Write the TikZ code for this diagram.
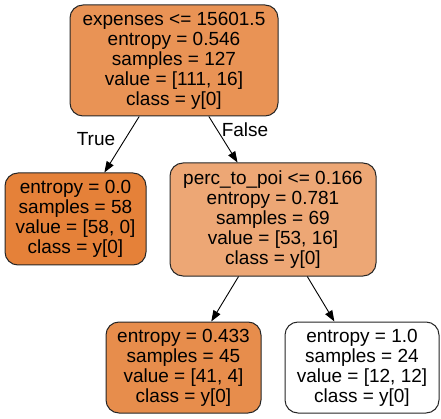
\documentclass[tikz,border=0pt]{standalone}
\usepackage{fontspec}
\setmainfont{Liberation Sans}
\usetikzlibrary{arrows.meta}
\definecolor{c0}{HTML}{E99355}
\definecolor{c1}{HTML}{E58139}
\definecolor{c2}{HTML}{EDA775}
\definecolor{c3}{HTML}{E78D4C}
\begin{document}
\begin{tikzpicture}[x=1pt,y=-1pt,
  treenode/.style={draw=black!85, line width=1pt, rounded corners=13pt, align=center,
    font=\fontsize{19}{20}\selectfont, inner sep=0pt},
  edge/.style={draw=black, line width=0.9pt, -{Triangle[length=11pt,width=8pt]}},
  elabel/.style={font=\fontsize{19}{20}\selectfont}]
\useasboundingbox (0,0) rectangle (441,419);
\node[treenode, fill=c0, minimum width=208pt, minimum height=111pt] (root) at (174,60.5)
  {expenses <= 15601.5\\entropy = 0.546\\samples = 127\\value = [111, 16]\\class = y[0]};
\node[treenode, fill=c1, minimum width=141pt, minimum height=92pt] (l1) at (75.5,219)
  {entropy = 0.0\\samples = 58\\value = [58, 0]\\class = y[0]};
\node[treenode, fill=c2, minimum width=206pt, minimum height=113pt] (n2) at (273,219.5)
  {perc\_to\_poi <= 0.166\\entropy = 0.781\\samples = 69\\value = [53, 16]\\class = y[0]};
\node[treenode, fill=c3, minimum width=155pt, minimum height=91pt] (n3) at (183.5,367.5)
  {entropy = 0.433\\samples = 45\\value = [41, 4]\\class = y[0]};
\node[treenode, fill=white, minimum width=154pt, minimum height=91pt] (n4) at (362,367.5)
  {entropy = 1.0\\samples = 24\\value = [12, 12]\\class = y[0]};
\draw[edge] (root) -- (l1);
\draw[edge] (root) -- (n2);
\draw[edge] (n2) -- (n3);
\draw[edge] (n2) -- (n4);
\node[elabel] (tl) at (96,139) {True};
\node[elabel] (fl) at (245,130) {False};
\end{tikzpicture}
\end{document}
